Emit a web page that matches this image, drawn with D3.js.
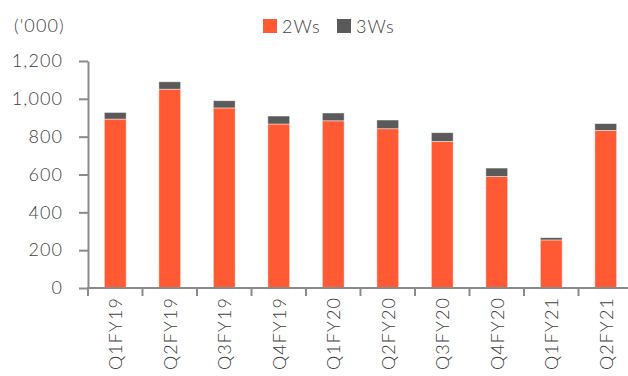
<!DOCTYPE html>
<html>
<head>
<meta charset="utf-8">
<script src="https://cdn.jsdelivr.net/npm/d3@7"></script>
<style>
  html, body { margin: 0; padding: 0; background: #fff; }
  svg { display: block; }
  text { font-family: Lato, "Open Sans", sans-serif; fill: #404040; letter-spacing: 1.1px; font-weight: 300; }
</style>
</head>
<body>
<svg id="chart" width="628" height="376"></svg>
<script>
// Quarterly volumes, in thousands
const quarters = ["Q1FY19", "Q2FY19", "Q3FY19", "Q4FY19", "Q1FY20", "Q2FY20", "Q3FY20", "Q4FY20", "Q1FY21", "Q2FY21"];
const twoWheelers = [893, 1051, 952, 867, 884, 842, 775, 590, 254, 833];
const threeWheelers = [35, 39, 38, 42, 41, 46, 46, 44, 12, 36];
const seriesNames = ["2Ws", "3Ws"];
const seriesColors = ["#FF5A33", "#5A5A5A"];
const yTicks = [0, 200, 400, 600, 800, 1000, 1200];
const unitLabel = "('000)";

const svg = d3.select("#chart");
const margin = { left: 88, top: 61, bottom: 288 };
const step = 54.5;
const fontSize = 18;

const x = d3.scaleBand()
  .domain(quarters)
  .range([margin.left, margin.left + step * quarters.length])
  .paddingInner(0.6)
  .paddingOuter(0.3);

const y = d3.scaleLinear().domain([0, 1200]).range([margin.bottom, margin.top]);

const rows = quarters.map((q, i) => ({ q, "2Ws": twoWheelers[i], "3Ws": threeWheelers[i] }));
const stacked = d3.stack().keys(seriesNames)(rows);

// Stacked bars
svg.append("g").selectAll("g")
  .data(stacked)
  .join("g")
  .attr("fill", (d, i) => seriesColors[i])
  .selectAll("rect")
  .data(d => d)
  .join("rect")
  .attr("x", d => x(d.data.q))
  .attr("width", x.bandwidth())
  .attr("y", d => y(d[1]))
  .attr("height", d => y(d[0]) - y(d[1]))
  .attr("stroke", "#ffffff")
  .attr("stroke-opacity", 0.55)
  .attr("stroke-width", 0.8);

// Y axis
const yAxis = svg.append("g")
  .attr("transform", `translate(${margin.left},0)`)
  .call(d3.axisLeft(y).tickValues(yTicks).tickSize(9).tickSizeOuter(0).tickPadding(16)
    .tickFormat(d3.format(",")));
yAxis.select(".domain").attr("stroke", "#8a8a8a").attr("stroke-width", 2);
yAxis.selectAll(".tick line").attr("stroke", "#8a8a8a").attr("stroke-width", 2);
yAxis.selectAll(".tick text").attr("font-size", fontSize).attr("fill", "#404040")
  .attr("font-family", "Lato, sans-serif");

// X axis with ticks on band boundaries
const boundary = d => x(d) - (x.step() - x.bandwidth()) / 2;
const xAxisG = svg.append("g").attr("transform", `translate(0,${margin.bottom})`);
xAxisG.append("line")
  .attr("x1", margin.left - 1).attr("x2", margin.left + step * quarters.length)
  .attr("stroke", "#8a8a8a").attr("stroke-width", 2);
xAxisG.selectAll("line.tk")
  .data(quarters)
  .join("line")
  .attr("class", "tk")
  .attr("x1", boundary)
  .attr("x2", boundary)
  .attr("y1", 0).attr("y2", 8)
  .attr("stroke", "#8a8a8a").attr("stroke-width", 2);
xAxisG.selectAll("text")
  .data(quarters)
  .join("text")
  .attr("transform", d => `translate(${x(d) + x.bandwidth() / 2 + 7},9) rotate(-90)`)
  .attr("text-anchor", "end")
  .attr("font-size", fontSize)
  .text(d => d);

// Unit label
svg.append("text").attr("x", 14).attr("y", 32).attr("font-size", fontSize).text(unitLabel);

// Legend
const legend = svg.append("g").selectAll("g")
  .data(seriesNames)
  .join("g")
  .attr("transform", (d, i) => `translate(${263 + i * 74},19)`);
legend.append("rect").attr("width", 14).attr("height", 14).attr("fill", (d, i) => seriesColors[i]);
legend.append("text").attr("x", 19).attr("y", 13.5).attr("font-size", fontSize).text(d => d);
</script>
</body>
</html>
